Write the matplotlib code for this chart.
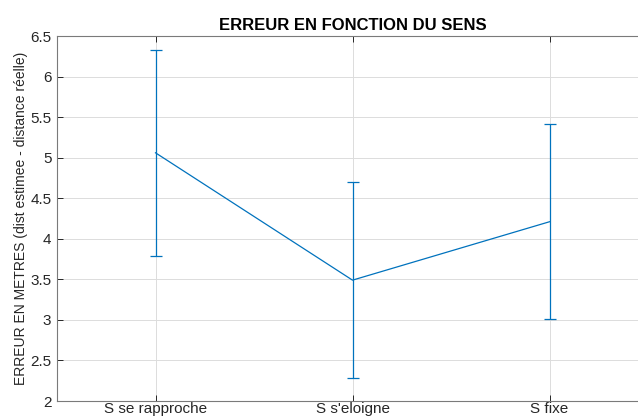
import matplotlib
matplotlib.use("Agg")
import matplotlib.pyplot as plt

plt.rcParams['font.family'] = ['Liberation Sans', 'DejaVu Sans']

# Données
sens = ["S se rapproche", "S s'eloigne", "S fixe"]
erreur_moy = [5.06, 3.49, 4.21]
erreur_std = [1.27, 1.21, 1.20]

bleu = "#0072BD"
gris_axe = "#262626"

fig = plt.figure(figsize=(6.38, 4.19), dpi=100)
# l'axe déborde à droite comme sur l'original (coupé)
ax = fig.add_axes([57 / 638, 18 / 419, 591 / 638, 365 / 419])

x = list(range(1, len(sens) + 1))
ax.errorbar(x, erreur_moy, yerr=erreur_std, color=bleu, lw=0.9,
            elinewidth=0.9, capsize=4.5, capthick=0.9)

ax.set_xlim(0.5, 3.5)
ax.set_ylim(2, 6.5)
ax.set_xticks(x)
ax.set_xticklabels(sens)
ax.set_yticks([2, 2.5, 3, 3.5, 4, 4.5, 5, 5.5, 6, 6.5])
ax.set_yticklabels(["2", "2.5", "3", "3.5", "4", "4.5", "5", "5.5", "6", "6.5"])

ax.grid(True, color="#dcdcdc", lw=0.7)
ax.set_axisbelow(True)
ax.tick_params(direction="in", length=4, width=0.7, colors=gris_axe,
               labelsize=11, top=True, right=True, pad=4)
ax.tick_params(axis="x", pad=1)
for s in ax.spines.values():
    s.set_color("#7a7a7a")
    s.set_linewidth(0.8)

ax.set_title("ERREUR EN FONCTION DU SENS", fontsize=12, fontweight="bold", pad=4)
ax.set_ylabel("ERREUR EN METRES (dist estimee - distance réelle)", fontsize=10,
              color=gris_axe, labelpad=2)

fig.savefig("out.png", dpi=100)
